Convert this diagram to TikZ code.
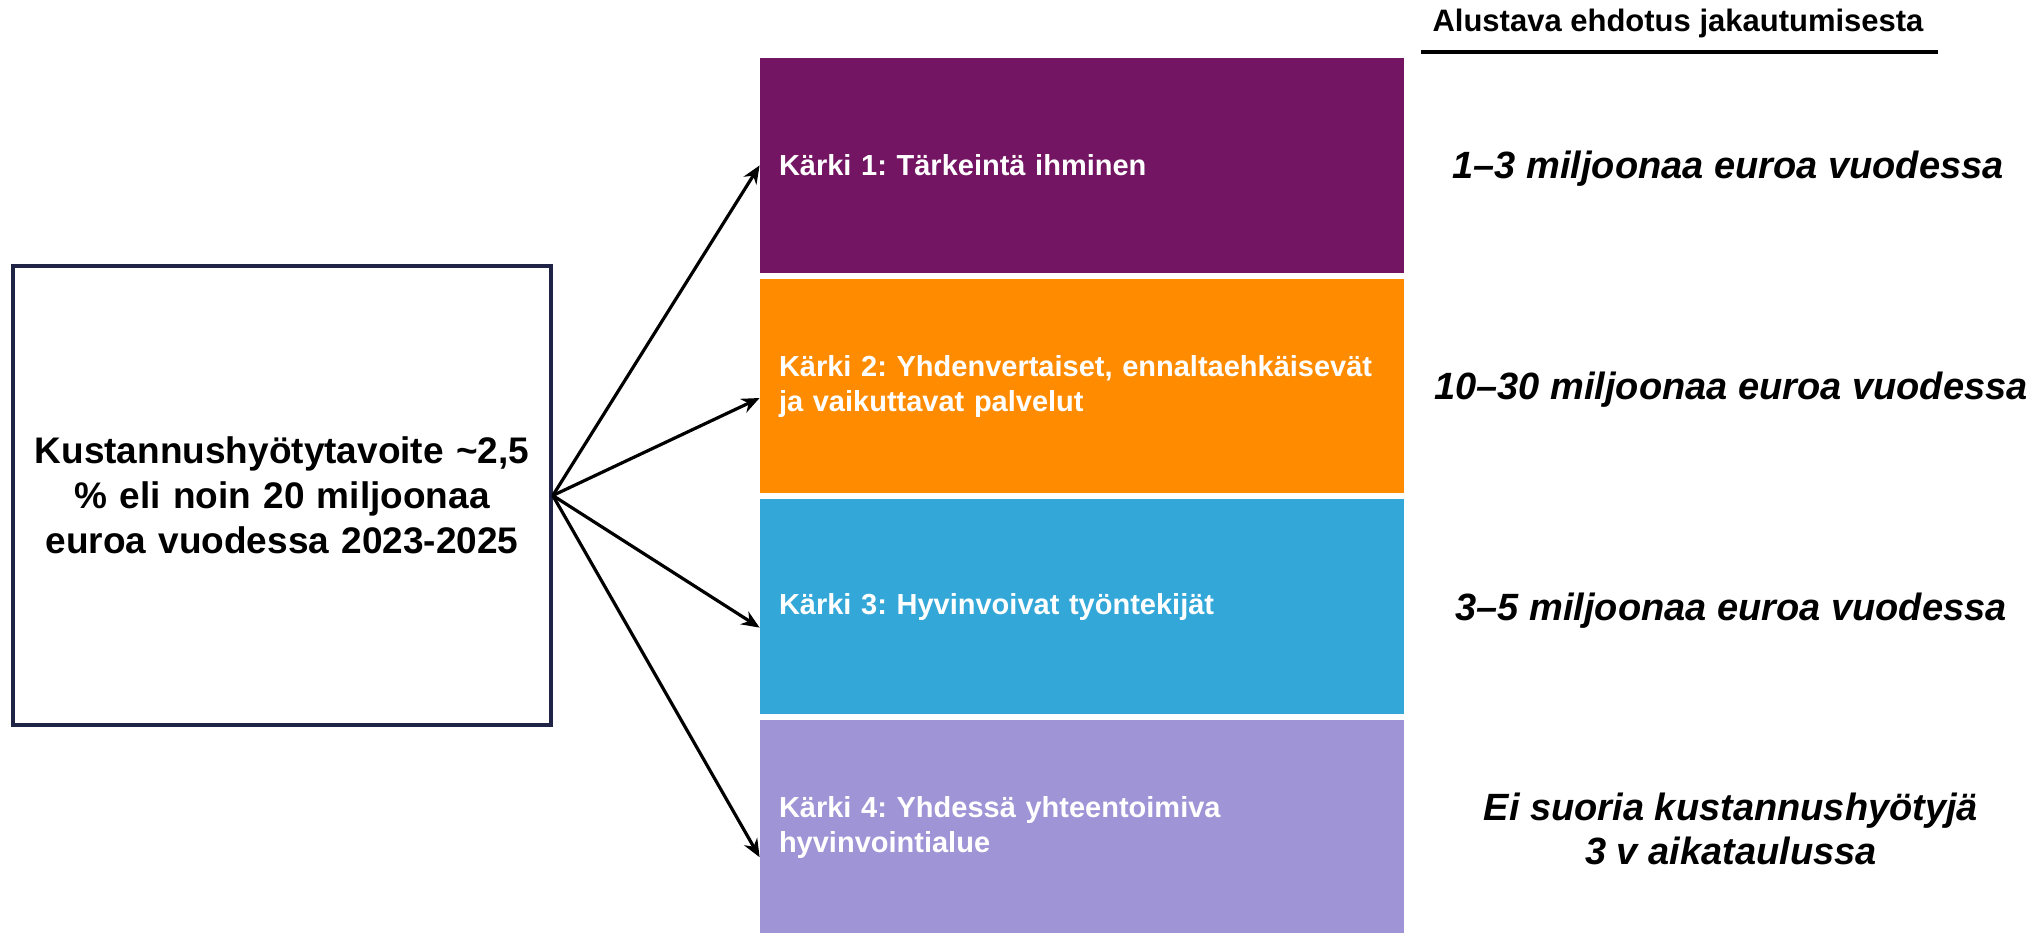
\documentclass[tikz,border=0pt]{standalone}
\usepackage{fontspec}
\setmainfont{Liberation Sans}
\usepackage{tikz}
\usetikzlibrary{arrows.meta, positioning, calc}
\frenchspacing
\definecolor{kpurple}{RGB}{115,21,98}
\definecolor{korange}{RGB}{255,140,0}
\definecolor{kblue}{RGB}{51,167,216}
\definecolor{klavender}{RGB}{159,148,214}
\definecolor{boxnavy}{RGB}{31,36,71}
\tikzset{
  goalbox/.style={rectangle, draw=boxnavy, fill=white, line width=1.8pt,
    minimum width=269pt, minimum height=229.5pt, text width=255pt,
    align=center, font=\fontsize{18.5}{22.5}\selectfont\bfseries},
  bar/.style={rectangle, minimum width=322pt, minimum height=107.4pt,
    text width=303pt, inner xsep=9.5pt, align=left, text=white,
    font=\fontsize{14.5}{17.5}\selectfont\bfseries},
  value/.style={align=center, font=\fontsize{19}{22}\selectfont\bfseries\itshape},
  header/.style={font=\fontsize{15.5}{18}\selectfont\bfseries},
  arrow/.style={-{Stealth[length=9pt, width=7.5pt]}, line width=1.6pt, color=black}
}

\begin{document}
\begin{tikzpicture}[x=0.5pt, y=-0.5pt, node distance=2.5pt]
  \useasboundingbox (0,0) rectangle (2037,932);

  % Nodes
  \node[goalbox] (goal) at (282,495.5) {Kustannushyötytavoite \textasciitilde2,5\\\% eli noin 20 miljoonaa\\euroa vuodessa 2023-2025};

  \node[bar, fill=kpurple] (k1) at (1082,165.4) {Kärki 1: Tärkeintä ihminen};
  \node[bar, fill=korange, below=of k1] (k2) {Kärki 2: Yhdenvertaiset, ennaltaehkäisevät\\ja vaikuttavat palvelut};
  \node[bar, fill=kblue, below=of k2] (k3) {Kärki 3: Hyvinvoivat työntekijät};
  \node[bar, fill=klavender, below=of k3] (k4) {Kärki 4: Yhdessä yhteentoimiva\\hyvinvointialue};

  \node[header] (hdr) at (1678,23) {Alustava ehdotus jakautumisesta};
  \draw[line width=1.6pt] (1421,52) -- (1938,52);

  \node[value] (v1) at (1728,169) {1–3 miljoonaa euroa vuodessa};
  \node[value] (v2) at (1731,390) {10–30 miljoonaa euroa vuodessa};
  \node[value] (v3) at (1731,611) {3–5 miljoonaa euroa vuodessa};
  \node[value] (v4) at (1731,829) {Ei suoria kustannushyötyjä\\3 v aikataulussa};

  % Paths
  \draw[arrow] (goal.east) -- (k1.west);
  \draw[arrow] (goal.east) -- ([yshift=-6pt]k2.west);
  \draw[arrow] (goal.east) -- ([yshift=-10.5pt]k3.west);
  \draw[arrow] (goal.east) -- ([yshift=-15pt]k4.west);
\end{tikzpicture}
\end{document}
